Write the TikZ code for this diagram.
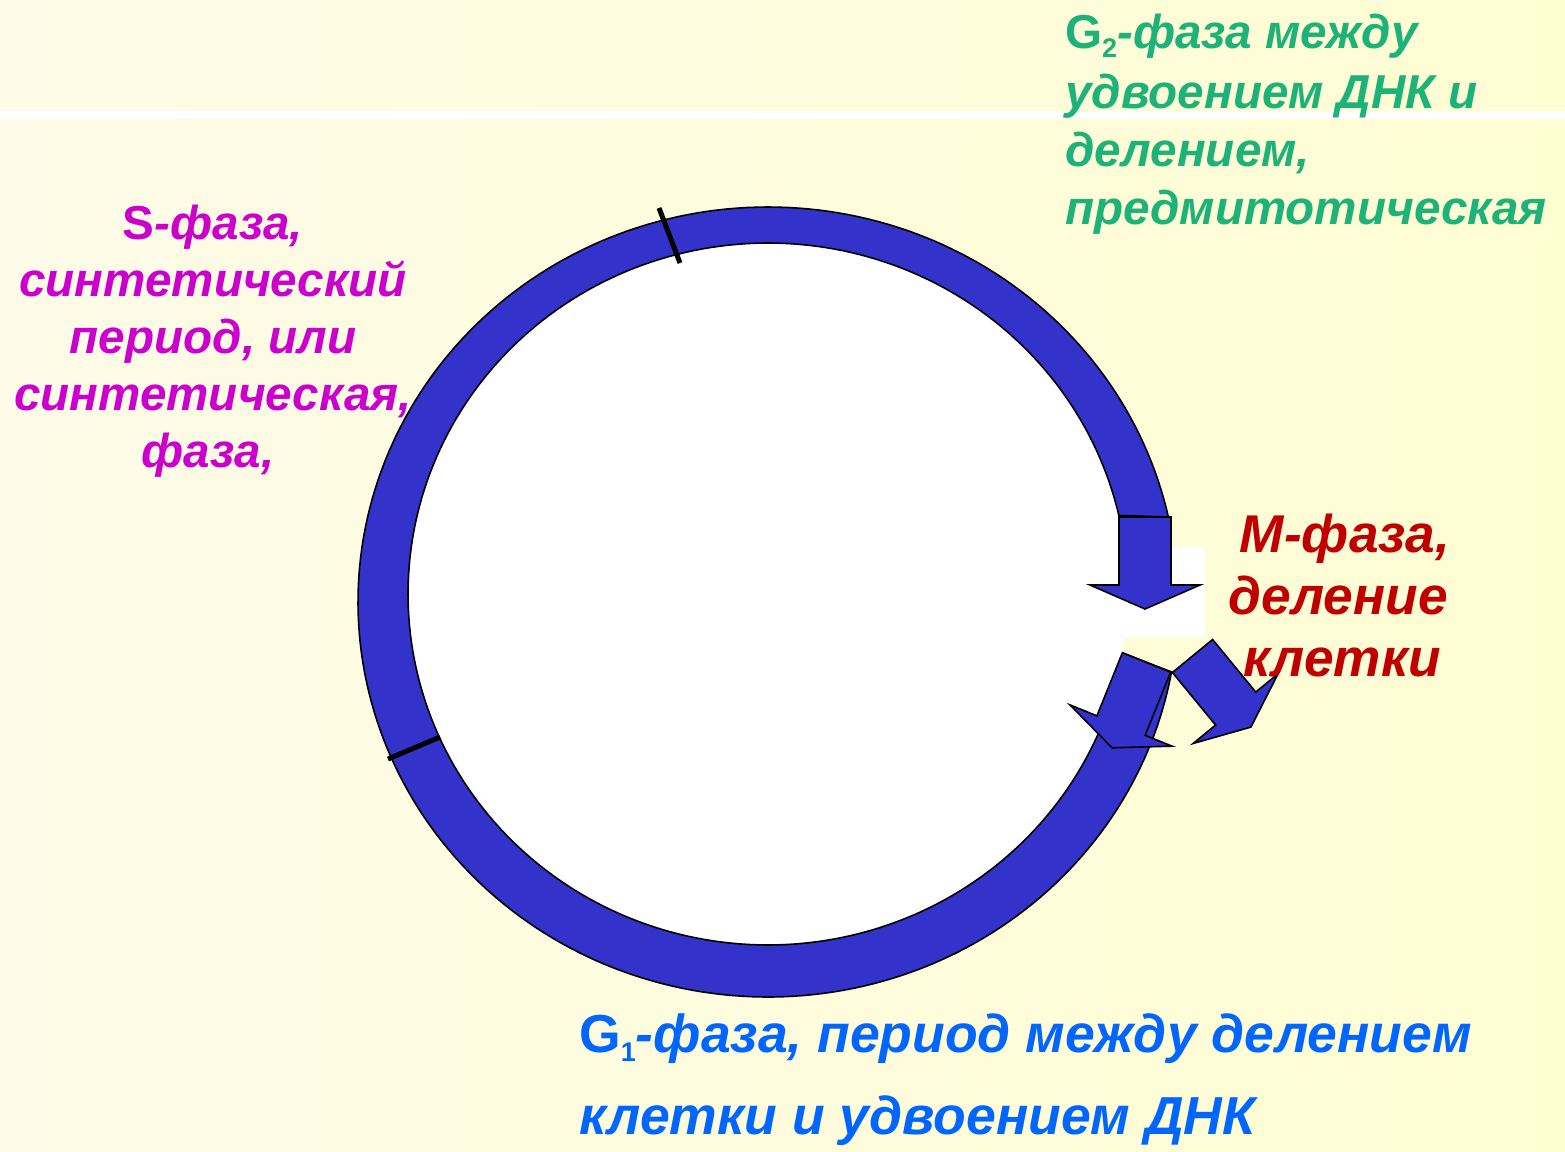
\documentclass[tikz,border=0pt]{standalone}
\usepackage{fontspec}
\setmainfont{Liberation Sans}
\definecolor{ringblue}{RGB}{51,51,204}
\definecolor{bgleft}{RGB}{254,251,232}
\definecolor{bgright}{RGB}{255,253,210}
\definecolor{gtext}{RGB}{28,178,120}
\definecolor{stext}{RGB}{204,0,204}
\definecolor{mtext}{RGB}{192,0,0}
\definecolor{btext}{RGB}{0,102,255}
\newcommand{\blockarrowshape}{(-26,0) -- (26,0) -- (26,68) -- (55,68) -- (0,92) -- (-55,68) -- (-26,68) -- cycle}
\newcommand{\lowsub}[1]{\raisebox{-9pt}{\upshape\fontsize{27}{27}\selectfont #1}}
\begin{document}
\begin{tikzpicture}[x=1pt,y=-1pt,
  blk/.style={fill=ringblue, draw=black, line width=1.6pt, line join=miter},
  tickline/.style={draw=black, line width=5pt},
  lbl/.style={inner sep=0pt, font=\bfseries\itshape\fontsize{47.6}{58}\selectfont},
  glbl/.style={lbl, text=gtext, anchor=base west},
  slbl/.style={lbl, text=stext, anchor=base},
  mlbl/.style={lbl, text=mtext, anchor=base, font=\bfseries\itshape\fontsize{53.2}{62}\selectfont},
  blbl/.style={lbl, text=btext, anchor=base west, font=\bfseries\itshape\fontsize{53.5}{62}\selectfont}]
\useasboundingbox (0,0) rectangle (1565,1151);
\shade[left color=bgleft, right color=bgright] (0,0) rectangle (1565,1151);
\fill[white] (0,111) rectangle (1565,119);
% interior
\fill[white] (768,594) ellipse [x radius=360, y radius=351];
\fill[white] (1100,547) rectangle (1205,637);
% ring
\filldraw[blk] plot[domain=12.43:349.8, samples=240] ({768+410*cos(\x)},{602-395*sin(\x)})
  -- plot[domain=0:1, samples=240] ({768+360*cos(350.32-337.65*\x)},{594-351*sin(350.32-337.65*\x)}) -- cycle;
% arrows
\begin{scope}[shift={(1145,517)}]
  \filldraw[blk] \blockarrowshape;
\end{scope}
\begin{scope}[shift={(1146.5,662.5)}, rotate=-22]
  \filldraw[blk] \blockarrowshape;
\end{scope}
\begin{scope}[shift={(1192.5,656)}, rotate=39.4]
  \filldraw[blk] \blockarrowshape;
\end{scope}
% phase ticks
\coordinate (t1a) at (659,208); \coordinate (t1b) at (680,263);
\coordinate (t2a) at (388,759); \coordinate (t2b) at (440,737);
\draw[tickline] (t1a) -- (t1b);
\draw[tickline] (t2a) -- (t2b);
% G2 label
\node[glbl] (g2a) at (1065,48) {{\upshape G}\lowsub{2}-фаза между};
\node[glbl] (g2b) at (1065,108) {удвоением ДНК и};
\node[glbl] (g2c) at (1065,166) {делением,};
\node[glbl] (g2d) at (1065,224) {предмитотическая};
% S label
\node[slbl] (sa) at (213,239) {{\upshape S}-фаза,};
\node[slbl] (sb) at (213,296) {синтетический};
\node[slbl] (sc) at (213,353) {период, или};
\node[slbl] (sd) at (213,410) {синтетическая,};
\node[slbl] (se) at (208,467) {фаза,};
% M label
\node[mlbl] (ma) at (1345,552) {М-фаза,};
\node[mlbl] (mb) at (1338,614) {деление};
\node[mlbl] (mc) at (1342,676) {клетки};
% G1 label
\node[blbl] (g1a) at (579,1052) {{\upshape G}\lowsub{1}-фаза, период между делением};
\node[blbl] (g1b) at (579,1134) {клетки и удвоением ДНК};
\end{tikzpicture}
\end{document}
